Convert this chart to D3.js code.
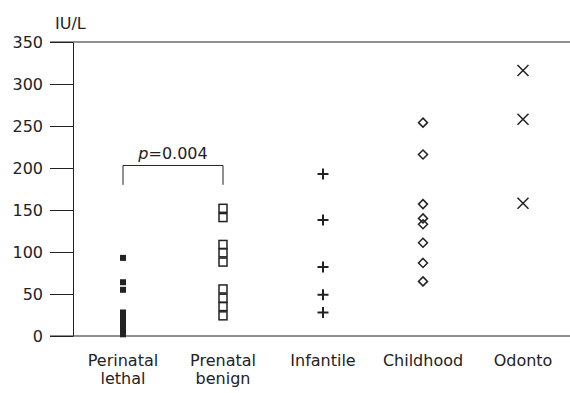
<!DOCTYPE html>
<html>
<head>
<meta charset="utf-8">
<script src="https://cdn.jsdelivr.net/npm/d3@7"></script>
<style>
  body { margin: 0; background: #fff; }
  svg text { font-family: "DejaVu Sans", Verdana, sans-serif; fill: #222; }
</style>
</head>
<body>
<svg id="chart" width="570" height="393"></svg>
<script>
// groups and values (IU/L)
const groups = ['Perinatal lethal', 'Prenatal benign', 'Infantile', 'Childhood', 'Odonto']
const perinatalLethal = [93, 64, 55, 28, 24, 20, 16, 12, 8, 4, 2]
const prenatalBenign = [152, 141, 109, 99, 88, 56, 45, 35, 24]
const infantile = [193, 138, 82, 49, 28]
const childhood = [254, 216, 157, 140, 133, 111, 87, 65]
const odonto = [316, 258, 158]
const yTicks = [0, 50, 100, 150, 200, 250, 300, 350]

const svg = d3.select('#chart')
const plotL = 73, plotR = 573, plotT = 42, plotB = 336

const x = d3.scaleBand().domain(groups).range([plotL, plotR])
const y = d3.scaleLinear().domain([0, 350]).range([plotB, plotT])

// y axis
const yAxis = svg.append('g')
  .attr('transform', `translate(${plotL},0)`)
  .call(d3.axisLeft(y).tickValues(yTicks).tickSize(23).tickPadding(7).tickSizeOuter(0))
yAxis.selectAll('text').style('font-size', '16px').attr('fill', '#222')
yAxis.selectAll('line, path').attr('stroke', '#222')

// top and bottom frame lines
svg.append('line').attr('x1', 50).attr('x2', 570).attr('y1', y(0)).attr('y2', y(0)).attr('stroke', '#222')
svg.append('line').attr('x1', 50).attr('x2', 570).attr('y1', y(350)).attr('y2', y(350)).attr('stroke', '#222')

svg.append('text').attr('x', 55).attr('y', 29).style('font-size', '16px').text('IU/L')

// category labels
groups.forEach(g => {
  const words = g.split(' ')
  const t = svg.append('text')
    .attr('x', x(g) + x.bandwidth() / 2)
    .attr('y', 366)
    .attr('text-anchor', 'middle')
    .style('font-size', '16px')
  words.forEach((w, i) => {
    t.append('tspan').attr('x', x(g) + x.bandwidth() / 2).attr('dy', i ? 18 : 0).text(w)
  })
})

const cx = g => x(g) + x.bandwidth() / 2

// perinatal lethal - small filled squares
svg.append('g').selectAll('rect').data(perinatalLethal).join('rect')
  .attr('x', cx(groups[0]) - 3).attr('y', d => y(d) - 3)
  .attr('width', 6).attr('height', 6).attr('fill', '#222')

// prenatal benign - open squares
svg.append('g').selectAll('rect').data(prenatalBenign).join('rect')
  .attr('x', cx(groups[1]) - 4).attr('y', d => y(d) - 4)
  .attr('width', 8).attr('height', 8)
  .attr('fill', 'none').attr('stroke', '#222').attr('stroke-width', 1.5)

// infantile - plus
svg.append('g').selectAll('path').data(infantile).join('path')
  .attr('transform', d => `translate(${cx(groups[2])},${y(d)})`)
  .attr('d', 'M-5.5,0H5.5M0,-5.5V5.5')
  .attr('stroke', '#222').attr('stroke-width', 2)

// childhood - diamonds
svg.append('g').selectAll('path').data(childhood).join('path')
  .attr('transform', d => `translate(${cx(groups[3])},${y(d)})`)
  .attr('d', 'M0,-4.5L4.5,0L0,4.5L-4.5,0Z')
  .attr('fill', 'none').attr('stroke', '#222').attr('stroke-width', 1.5)

// odonto - crosses
svg.append('g').selectAll('path').data(odonto).join('path')
  .attr('transform', d => `translate(${cx(groups[4])},${y(d)})`)
  .attr('d', 'M-5.5,-5.5L5.5,5.5M5.5,-5.5L-5.5,5.5')
  .attr('stroke', '#222').attr('stroke-width', 1.5)

// significance bracket
const bx1 = cx(groups[0]), bx2 = cx(groups[1])
svg.append('path')
  .attr('d', `M${bx1},${y(180)}V${y(203)}H${bx2}V${y(180)}`)
  .attr('fill', 'none').attr('stroke', '#222')
const pt = svg.append('text')
  .attr('x', (bx1 + bx2) / 2).attr('y', 159)
  .attr('text-anchor', 'middle').style('font-size', '16px')
pt.append('tspan').style('font-style', 'italic').text('p')
pt.append('tspan').text('=0.004')
</script>
</body>
</html>
